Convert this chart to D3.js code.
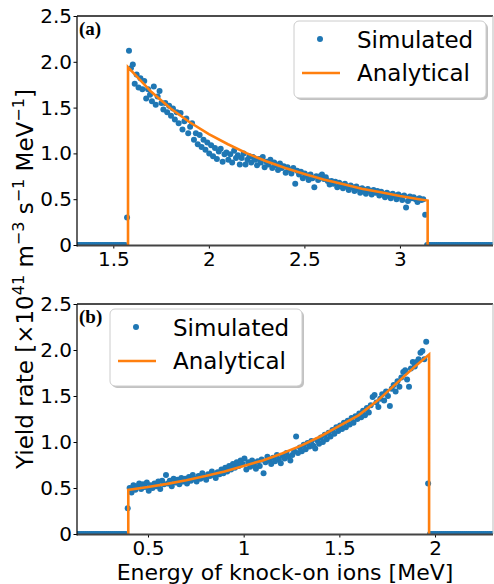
<!DOCTYPE html>
<html lang="en">
<head>
<meta charset="utf-8">
<title>Yield rate of knock-on ions</title>
<script src="https://d3js.org/d3.v7.min.js"></script>
<style>
    body, html {
        margin: 0;
        padding: 0;
        background: #fff;
        overflow: hidden;
    }
    svg {
        display: block;
        font-family: "DejaVu Sans", sans-serif;
    }
    .tick text {
        font-size: 20px;
        fill: #000;
    }
    .tick line {
        stroke: #000;
    }
</style>
</head>
<body>
<svg width="494" height="584"></svg>
<script>
// ---- panel (a) : simulated bins (start, step) and values ----
var simAStart = 1.312, simAStep = 0.01;
var simAY = [
    0, 0, 0, 0, 0, 0, 0, 0, 0, 0,
    0, 0, 0, 0, 0, 0, 0, 0, 0, 0,
    0, 0, 0, 0, 0, 0,
    0.30, 2.12, 1.93, 1.97, 1.76, 1.86, 1.72, 1.82, 1.70, 1.79,
    1.60, 1.70, 1.64, 1.57, 1.73, 1.53, 1.62, 1.68, 1.55, 1.48,
    1.55, 1.45, 1.52, 1.41, 1.49, 1.37, 1.45, 1.33, 1.44, 1.26,
    1.35, 1.38, 1.22, 1.29, 1.33, 1.15, 1.22, 1.10, 1.20, 1.07,
    1.15, 1.04, 1.12, 1.00, 1.09, 0.97, 1.06, 0.94, 1.02, 1.05,
    0.91, 0.99, 1.01, 0.93, 0.99, 0.90, 1.03, 0.95, 0.98, 0.88,
    0.95, 1.00, 0.88, 0.93, 0.97, 0.90, 0.96, 0.93, 0.87, 0.94,
    0.90, 0.96, 0.85, 0.91, 0.88, 0.93, 0.84, 0.90, 0.87, 0.82,
    0.89, 0.84, 0.86, 0.79, 0.85, 0.82, 0.78, 0.84, 0.67, 0.81,
    0.77, 0.80, 0.73, 0.78, 0.76, 0.71, 0.77, 0.73, 0.63, 0.75,
    0.71, 0.75, 0.77, 0.72, 0.74, 0.70, 0.66, 0.70, 0.67, 0.69,
    0.63, 0.68, 0.66, 0.62, 0.67, 0.64, 0.60, 0.65, 0.63, 0.59,
    0.64, 0.61, 0.57, 0.62, 0.60, 0.56, 0.61, 0.59, 0.55, 0.60,
    0.57, 0.59, 0.54, 0.58, 0.56, 0.52, 0.57, 0.55, 0.51, 0.56,
    0.54, 0.50, 0.55, 0.53, 0.49, 0.54, 0.41, 0.48, 0.53, 0.51,
    0.52, 0.50, 0.47, 0.51, 0.49, 0.50, 0.33,
    0, 0, 0, 0, 0, 0, 0, 0, 0, 0,
    0, 0, 0, 0, 0, 0, 0, 0, 0, 0,
    0, 0, 0, 0, 0, 0, 0, 0, 0, 0,
    0, 0, 0, 0, 0, 0
];
// analytical curve (a)
var anaAX = [1.577, 1.577, 1.6, 1.7, 1.8, 1.9, 2.0, 2.1, 2.2, 2.3, 2.4, 2.5, 2.6, 2.7, 2.8, 2.9, 3.0, 3.1, 3.145, 3.145];
var anaAY = [0, 1.94, 1.89, 1.67, 1.49, 1.34, 1.21, 1.10, 1.00, 0.915, 0.84, 0.775, 0.715, 0.665, 0.615, 0.575, 0.535, 0.50, 0.485, 0];
var xDomainA = [1.31, 3.487];
var xTicksA = [1.5, 2, 2.5, 3];

// ---- panel (b) ----
var simBStart = 0.134, simBStep = 0.01;
var simBY = [
    0, 0, 0, 0, 0, 0, 0, 0, 0, 0,
    0, 0, 0, 0, 0, 0, 0, 0, 0, 0,
    0, 0, 0, 0, 0, 0,
    0.28, 0.50, 0.45, 0.53, 0.48, 0.52, 0.55, 0.49, 0.54, 0.51,
    0.56, 0.47, 0.53, 0.50, 0.55, 0.52, 0.57, 0.49, 0.58, 0.54,
    0.64, 0.55, 0.58, 0.52, 0.60, 0.56, 0.59, 0.54, 0.61, 0.57,
    0.60, 0.55, 0.62, 0.58, 0.64, 0.60, 0.57, 0.63, 0.60, 0.66,
    0.62, 0.59, 0.65, 0.63, 0.68, 0.64, 0.61, 0.67, 0.65, 0.70,
    0.66, 0.72, 0.68, 0.74, 0.70, 0.76, 0.72, 0.78, 0.74, 0.80,
    0.76, 0.82, 0.70, 0.78, 0.73, 0.80, 0.75, 0.71, 0.79, 0.74,
    0.81, 0.66, 0.78, 0.84, 0.80, 0.76, 0.83, 0.79, 0.86, 0.81,
    0.77, 0.85, 0.82, 0.88, 0.84, 0.80, 0.86, 0.90, 1.06, 0.88,
    0.94, 0.90, 0.97, 0.92, 0.99, 0.95, 1.01, 0.96, 0.93, 1.02,
    0.98, 1.05, 1.00, 1.08, 1.03, 1.10, 1.06, 1.13, 1.09, 1.16,
    1.12, 1.18, 1.14, 1.21, 1.16, 1.23, 1.19, 1.26, 1.21, 1.28,
    1.25, 1.31, 1.27, 1.34, 1.29, 1.37, 1.32, 1.40, 1.49, 1.51,
    1.43, 1.38, 1.47, 1.52, 1.45, 1.55, 1.50, 1.39, 1.58, 1.62,
    1.55, 1.66, 1.60, 1.70, 1.76, 1.78, 1.68, 1.60, 1.80, 1.87,
    1.82, 1.87, 1.90, 1.97, 1.99, 1.90, 2.09, 0.55,
    0, 0, 0, 0, 0, 0, 0, 0, 0, 0,
    0, 0, 0, 0, 0, 0, 0, 0, 0, 0,
    0, 0, 0, 0, 0, 0, 0, 0, 0, 0,
    0, 0, 0, 0
];
var anaBX = [0.397, 0.397, 0.5, 0.6, 0.7, 0.8, 0.9, 1.0, 1.1, 1.2, 1.3, 1.4, 1.5, 1.6, 1.7, 1.8, 1.9, 1.969, 1.969];
var anaBY = [0, 0.48, 0.51, 0.545, 0.585, 0.63, 0.68, 0.74, 0.80, 0.875, 0.96, 1.06, 1.175, 1.29, 1.45, 1.64, 1.83, 1.95, 0];
var xDomainB = [0.129, 2.303];
var xTicksB = [0.5, 1, 1.5, 2];

var yDomain = [0, 2.5];
var yTicks = [0, 0.5, 1.0, 1.5, 2.0, 2.5];
var legendLabels = ["Simulated", "Analytical"];

var blue = "#1f77b4", orange = "#ff7f0e";

var svg = d3.select("svg");
var left = 77, right = 493;

var panels = [
    { id: "a", label: "(a)", top: 16, bottom: 245, start: simAStart, step: simAStep, sim: simAY,
      ax: anaAX, ay: anaAY, xDomain: xDomainA, xTicks: xTicksA, legend: [294, 21] },
    { id: "b", label: "(b)", top: 304, bottom: 534, start: simBStart, step: simBStep, sim: simBY,
      ax: anaBX, ay: anaBY, xDomain: xDomainB, xTicks: xTicksB, legend: [110, 309] }
];

panels.forEach(function (p) {
    var x = d3.scaleLinear().domain(p.xDomain).range([left, right]);
    var y = d3.scaleLinear().domain(yDomain).range([p.bottom, p.top]);

    svg.append("clipPath").attr("id", "clip-" + p.id)
        .append("rect")
        .attr("x", left).attr("y", p.top)
        .attr("width", right - left).attr("height", p.bottom - p.top);

    var plot = svg.append("g").attr("clip-path", "url(#clip-" + p.id + ")");

    // simulated dots
    plot.selectAll("circle")
        .data(p.sim)
        .enter().append("circle")
        .attr("cx", function (d, i) { return x(p.start + i * p.step); })
        .attr("cy", function (d) { return y(d); })
        .attr("r", 3)
        .attr("fill", blue);

    // analytical line
    var line = d3.line()
        .x(function (d) { return x(d[0]); })
        .y(function (d) { return y(d[1]); });
    plot.append("path")
        .datum(d3.zip(p.ax, p.ay))
        .attr("d", line)
        .attr("fill", "none")
        .attr("stroke", orange)
        .attr("stroke-width", 2.6);

    // axes
    var xAxis = svg.append("g")
        .attr("transform", "translate(0," + p.bottom + ")")
        .call(d3.axisBottom(x).tickValues(p.xTicks).tickFormat(function (d) { return String(d); })
            .tickSize(3.5).tickPadding(3).tickSizeOuter(0));
    xAxis.select(".domain").remove();
    xAxis.selectAll("text").attr("font-family", "DejaVu Sans").attr("font-size", 20);

    var yAxis = svg.append("g")
        .attr("transform", "translate(" + left + ",0)")
        .call(d3.axisLeft(y).tickValues(yTicks)
            .tickFormat(function (d) { return d === 0 ? "0" : d3.format(".1f")(d); })
            .tickSize(3.5).tickPadding(1.5).tickSizeOuter(0));
    yAxis.select(".domain").remove();
    yAxis.selectAll("text").attr("font-family", "DejaVu Sans").attr("font-size", 20);

    // spines
    svg.append("line").attr("x1", left).attr("x2", right).attr("y1", p.top).attr("y2", p.top)
        .attr("stroke", "#111").attr("stroke-width", 1.3);
    svg.append("line").attr("x1", right).attr("x2", right).attr("y1", p.top).attr("y2", p.bottom)
        .attr("stroke", "#bbb").attr("stroke-width", 1);
    svg.append("line").attr("x1", left).attr("x2", right).attr("y1", p.bottom + 0.5).attr("y2", p.bottom + 0.5)
        .attr("stroke", "#444").attr("stroke-width", 2);
    svg.append("line").attr("x1", left).attr("x2", left).attr("y1", p.top).attr("y2", p.bottom + 1.5)
        .attr("stroke", "#111").attr("stroke-width", 1.3);

    // panel label
    svg.append("text")
        .attr("x", left + 2).attr("y", p.top + 19)
        .attr("font-family", "Liberation Serif, serif")
        .attr("font-weight", "bold")
        .attr("font-size", 19)
        .text(p.label);

    // legend
    var lg = svg.append("g").attr("transform", "translate(" + p.legend[0] + "," + p.legend[1] + ")");
    lg.append("rect")
        .attr("x", 2).attr("y", 2).attr("width", 192).attr("height", 77)
        .attr("rx", 5).attr("fill", "#999").attr("opacity", 0.6);
    lg.append("rect")
        .attr("x", 0).attr("y", 0).attr("width", 192).attr("height", 77)
        .attr("rx", 5).attr("fill", "#fff").attr("stroke", "#ccc").attr("stroke-width", 1);
    lg.append("circle").attr("cx", 26).attr("cy", 18).attr("r", 3).attr("fill", blue);
    lg.append("line").attr("x1", 8).attr("x2", 46).attr("y1", 52).attr("y2", 52)
        .attr("stroke", orange).attr("stroke-width", 2.6);
    lg.selectAll("text.lab")
        .data(legendLabels)
        .enter().append("text")
        .attr("class", "lab")
        .attr("x", 63)
        .attr("y", function (d, i) { return i === 0 ? 27 : 60; })
        .attr("font-size", 23)
        .text(function (d) { return d; });
});

// axis titles
svg.append("text")
    .attr("x", (left + right) / 2).attr("y", 580)
    .attr("text-anchor", "middle")
    .attr("font-size", 22)
    .text("Energy of knock-on ions [MeV]");

var yl = svg.append("text")
    .attr("transform", "translate(33,279) rotate(-90)")
    .attr("text-anchor", "middle")
    .attr("font-size", 23);
var parts = [["Yield rate [\u00d710", 0], ["41", 1], [" m", 0], ["\u22123", 1], [" s", 0], ["\u22121", 1], [" MeV", 0], ["\u22121", 1], ["]", 0]];
var raised = false;
parts.forEach(function (pt) {
    var t = yl.append("tspan").text(pt[0]);
    if (pt[1]) {
        t.attr("font-size", 16).attr("dy", raised ? 0 : -9);
        raised = true;
    } else {
        if (raised) t.attr("dy", 9);
        raised = false;
    }
});
</script>
</body>
</html>
